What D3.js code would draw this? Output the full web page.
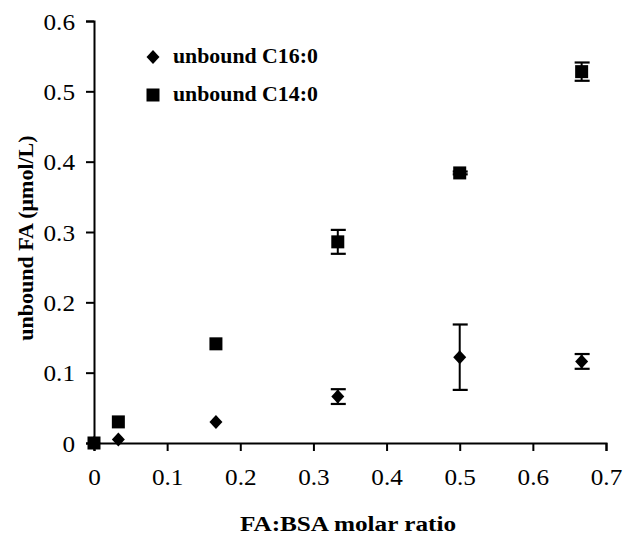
<!DOCTYPE html>
<html>
<head>
<meta charset="utf-8">
<script src="https://cdn.jsdelivr.net/npm/d3@7"></script>
<style>
  body { margin: 0; background: #fff; }
  svg { display: block; }
  text { font-family: "Liberation Serif", "Times New Roman", serif; fill: #000; }
</style>
</head>
<body>
<div id="chart"></div>
<script>
// molar ratio FA:BSA
var ratios = [0, 0.0333, 0.1667, 0.3333, 0.5, 0.6667];
// unbound C16:0 and its error
var c16 = [0, 0.005, 0.030, 0.066, 0.122, 0.116];
var c16Err = [0, 0, 0, 0.0105, 0.0465, 0.0105];
// unbound C14:0 and its error
var c14 = [0, 0.030, 0.141, 0.286, 0.384, 0.528];
var c14Err = [0, 0, 0, 0.017, 0.002, 0.013];
var xTicks = [0, 0.1, 0.2, 0.3, 0.4, 0.5, 0.6, 0.7];
var yTicks = [0, 0.1, 0.2, 0.3, 0.4, 0.5, 0.6];
var legendLabels = ['unbound C16:0', 'unbound C14:0'];

var width = 625, height = 534;

var svg = d3.select('#chart')
	.append('svg')
	.attr('width', width).attr('height', height);

var x = d3.scaleLinear().domain([0, 0.7]).range([94, 606]);
var y = d3.scaleLinear().domain([0, 0.6]).range([443, 21]);

var fmt = function (d) { return d === 0 ? '0' : d3.format('.1f')(d); };

// stretch text sideways a little, the scan is wider than tall
function stretch(sel, k) {
	sel.each(function () {
		var w = this.getComputedTextLength();
		d3.select(this).attr('textLength', w * k).attr('lengthAdjust', 'spacingAndGlyphs');
	});
}

var xAxis = svg.append('g')
	.attr('transform', 'translate(0,' + y(0) + ')')
	.call(d3.axisBottom(x).tickValues(xTicks).tickFormat(fmt).tickSize(8).tickPadding(18));

var yAxis = svg.append('g')
	.attr('transform', 'translate(' + x(0) + ',0)')
	.call(d3.axisLeft(y).tickValues(yTicks).tickFormat(fmt).tickSize(8).tickPadding(11));

[xAxis, yAxis].forEach(function (a) {
	a.select('.domain').attr('stroke', '#000').attr('stroke-width', 2);
	a.selectAll('.tick line').attr('stroke', '#000').attr('stroke-width', 2);
	a.selectAll('.tick text')
		.style('font-family', '"Liberation Serif", serif')
		.style('font-size', '22.5px')
		.attr('fill', '#000');
	stretch(a.selectAll('.tick text'), 1.12);
});
yAxis.selectAll('.tick text').attr('dy', '0.36em');

// series
var series = [
	{ vals: c16, errs: c16Err, shape: 'diamond' },
	{ vals: c14, errs: c14Err, shape: 'square' }
];

function marker(g, shape, cx, cy) {
	if (shape === 'diamond') {
		g.append('path')
			.attr('d', 'M' + cx + ',' + (cy - 7) + 'L' + (cx + 6.5) + ',' + cy +
				'L' + cx + ',' + (cy + 7) + 'L' + (cx - 6.5) + ',' + cy + 'Z')
			.attr('fill', '#000');
	} else {
		g.append('rect')
			.attr('x', cx - 6.5).attr('y', cy - 6.5)
			.attr('width', 13).attr('height', 13)
			.attr('fill', '#000');
	}
}

series.forEach(function (s) {
	var g = svg.append('g');
	ratios.forEach(function (r, i) {
		var e = s.errs[i];
		if (e > 0) {
			var px = x(r), top = y(s.vals[i] + e), bot = y(s.vals[i] - e);
			g.append('line').attr('x1', px).attr('x2', px).attr('y1', top).attr('y2', bot)
				.attr('stroke', '#000').attr('stroke-width', 2);
			[top, bot].forEach(function (py) {
				g.append('line').attr('x1', px - 7).attr('x2', px + 8).attr('y1', py).attr('y2', py)
					.attr('stroke', '#000').attr('stroke-width', 2.2);
			});
		}
		marker(g, s.shape, x(r), y(s.vals[i]));
	});
});

// legend
var leg = svg.append('g');
series.forEach(function (s, i) {
	var ly = 57 + i * 38;
	marker(leg, s.shape, 153, ly);
	var t = leg.append('text')
		.attr('x', 173).attr('y', ly + 6)
		.style('font-size', '20px').style('font-weight', 'bold')
		.text(legendLabels[i]);
	stretch(t, 1.09);
});

// axis titles
var xt = svg.append('text')
	.attr('x', 348).attr('y', 531)
	.attr('text-anchor', 'middle')
	.style('font-size', '20.5px').style('font-weight', 'bold')
	.text('FA:BSA molar ratio');
stretch(xt, 1.23);

svg.append('text')
	.attr('transform', 'translate(33,238) rotate(-90)')
	.attr('text-anchor', 'middle')
	.style('font-size', '22px').style('font-weight', 'bold')
	.text('unbound FA (μmol/L)');
</script>
</body>
</html>
